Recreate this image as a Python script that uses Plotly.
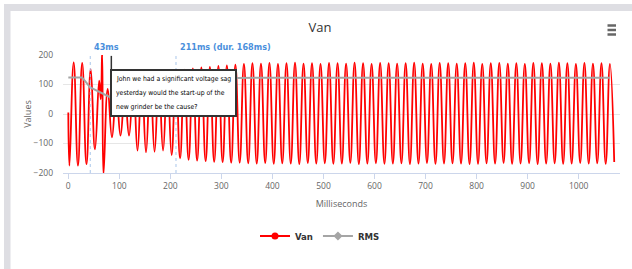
import plotly.graph_objects as go

# ---------------- data ----------------
# Van waveform: times (ms) and values (V) of each crest and trough
peak_times = [10.5, 27.2, 43.9, 60.5, 77.2, 93.9, 110.6, 127.3, 143.9, 160.6,
              177.3, 194.0, 210.7, 227.3, 244.0, 260.7, 277.4, 294.1, 310.7, 327.4,
              344.1, 360.8, 377.5, 394.1, 410.8, 427.5, 444.2, 460.9, 477.5, 494.2,
              510.9, 527.6, 544.3, 560.9, 577.6, 594.3, 611.0, 627.7, 644.3, 661.0,
              677.7, 694.4, 711.1, 727.7, 744.4, 761.1, 777.8, 794.5, 811.1, 827.8,
              844.5, 861.2, 877.9, 894.5, 911.2, 927.9, 944.6, 961.3, 977.9, 994.6,
              1011.3, 1028.0, 1044.7, 1061.3]
peak_values = [175, 173, 152, 113, 85, 75, 72, 110, 125, 128,
               125, 135, 145, 150, 155, 158, 160, 163, 165, 167,
               170, 172, 171, 173, 170, 172, 174, 171, 172, 170,
               173, 172, 171, 174, 172, 170, 173, 172, 171, 172,
               174, 171, 170, 173, 172, 171, 172, 174, 170, 172,
               173, 171, 172, 170, 173, 172, 171, 174, 172, 170,
               173, 171, 172, 170]
trough_times = [2.2, 18.9, 35.6, 52.2, 68.9, 85.6, 102.3, 119.0, 135.6, 152.3,
                169.0, 185.7, 202.4, 219.0, 235.7, 252.4, 269.1, 285.8, 302.4, 319.1,
                335.8, 352.5, 369.2, 385.8, 402.5, 419.2, 435.9, 452.6, 469.2, 485.9,
                502.6, 519.3, 536.0, 552.6, 569.3, 586.0, 602.7, 619.4, 636.0, 652.7,
                669.4, 686.1, 702.8, 719.4, 736.1, 752.8, 769.5, 786.2, 802.8, 819.5,
                836.2, 852.9, 869.6, 886.2, 902.9, 919.6, 936.3, 953.0, 969.6, 986.3,
                1003.0, 1019.7, 1036.4, 1053.0, 1069.7]
trough_values = [-175, -175, -170, -120, -205, -79, -73, -73, -124, -130,
                 -128, -124, -139, -150, -155, -158, -160, -162, -163, -165,
                 -165, -167, -168, -166, -169, -167, -168, -170, -166, -168,
                 -167, -169, -168, -166, -170, -168, -167, -169, -168, -167,
                 -170, -168, -166, -169, -168, -167, -168, -170, -169, -167,
                 -168, -166, -169, -168, -167, -170, -168, -167, -169, -168,
                 -166, -168, -167, -169, -163]
# extra samples: start of record and the switching transient
extra_times = [0.0, 63.6, 66.4]
extra_values = [5, 50, 205]

# RMS envelope
rms_times = [0, 27, 43, 63, 82, 100, 118, 135, 152, 168, 185, 202, 218, 235,
             252, 270, 300, 330, 400, 1061.3]
rms_values = [124, 124, 90, 73, 57, 52, 55, 72, 86, 90, 92, 98, 105, 110,
              114, 117, 120, 122, 123, 123]

# event markers
event_times = [43, 211]
event_labels = ["43ms", "211ms (dur. 168ms)"]
comment_lines = ["John we had a significant voltage sag",
                 "yesterday would the start-up of the",
                 "new grinder be the cause?"]
comment_time = 84.3
comment_value = 152.5
comment_pointer_top = 197

x_ticks = [0, 100, 200, 300, 400, 500, 600, 700, 800, 900, 1000]
y_ticks = [-200, -100, 0, 100, 200]

# ---------------- build ----------------
pts = sorted(zip(peak_times + trough_times + extra_times,
                 peak_values + trough_values + extra_values))
van_x = [p[0] for p in pts]
van_y = [p[1] for p in pts]

W, H = 632, 269
L, R, T, B = 63, 12, 55, 96
PW, PH = W - L - R, H - T - B


def px(x):
    return (x - L) / PW


def py(y):
    return (H - B - y) / PH


FONT = "Open Sans, Liberation Sans, Arial, sans-serif"
NARROW = "Liberation Sans Narrow, DejaVu Sans Condensed, Liberation Sans, sans-serif"

fig = go.Figure()
fig.add_trace(go.Scatter(x=van_x, y=van_y, mode="lines", name="Van",
                         line=dict(color="#ff0000", width=1.8, shape="spline", smoothing=1.3),
                         showlegend=False, hoverinfo="skip"))
fig.add_trace(go.Scatter(x=rms_times, y=rms_values, mode="lines", name="RMS",
                         line=dict(color="#a5a5a5", width=2),
                         showlegend=False, hoverinfo="skip"))
# legend entries
fig.add_trace(go.Scatter(x=[None], y=[None], mode="lines+markers", name="Van",
                         line=dict(color="#ff0000", width=2),
                         marker=dict(symbol="circle", size=7, color="#ff0000")))
fig.add_trace(go.Scatter(x=[None], y=[None], mode="lines+markers", name="RMS",
                         line=dict(color="#a5a5a5", width=2),
                         marker=dict(symbol="diamond", size=7, color="#a5a5a5")))

shapes = []
for t in event_times:
    shapes.append(dict(type="line", xref="x", yref="paper", x0=t, x1=t, y0=0, y1=1,
                       line=dict(color="#a9c6ea", width=1, dash="3px,3px"), layer="above"))
shapes.append(dict(type="line", xref="x", yref="y", x0=comment_time, x1=comment_time,
                   y0=comment_value, y1=comment_pointer_top,
                   line=dict(color="#333333", width=1.5), layer="above"))
# comment box
shapes.append(dict(type="rect", xref="paper", yref="paper", x0=px(111), x1=px(236),
                   y0=py(116), y1=py(70), fillcolor="#ffffff",
                   line=dict(color="#333333", width=2), layer="above"))
# outer frame strips
shapes.append(dict(type="rect", xref="paper", yref="paper", x0=px(4), x1=px(632),
                   y0=py(11), y1=py(4), fillcolor="#dedee3", line=dict(width=0), layer="above"))
shapes.append(dict(type="rect", xref="paper", yref="paper", x0=px(4), x1=px(10.5),
                   y0=py(269), y1=py(4), fillcolor="#dedee3", line=dict(width=0), layer="above"))
# menu icon
for yy in (25.5, 30, 34.5):
    shapes.append(dict(type="line", xref="paper", yref="paper", x0=px(607.5), x1=px(616),
                       y0=py(yy), y1=py(yy), line=dict(color="#666666", width=2.5)))

annotations = []
for t, lab in zip(event_times, event_labels):
    annotations.append(dict(x=t, y=1, xref="x", yref="paper", text="<b>%s</b>" % lab,
                            showarrow=False, xanchor="left", yanchor="bottom",
                            xshift=2, yshift=1,
                            font=dict(family=NARROW, size=9, color="#4a8fdc")))
for i, line in enumerate(comment_lines):
    annotations.append(dict(x=px(113.5), y=py(78.5 + 14 * i), xref="paper", yref="paper",
                            text=line, showarrow=False, xanchor="left", yanchor="middle",
                            font=dict(family=NARROW, size=6.8, color="#000000")))

fig.update_layout(
    width=W, height=H, autosize=False,
    margin=dict(l=L, r=R, t=T, b=B, pad=0, autoexpand=False),
    paper_bgcolor="#ffffff", plot_bgcolor="#ffffff",
    font=dict(family=FONT, size=9, color="#666666"),
    title=dict(text="Van", x=320 / W, xanchor="center", y=1 - 27 / H, yanchor="middle",
               font=dict(family=FONT, size=13, color="#333333")),
    xaxis=dict(range=[-10.4, 1081], tickvals=x_ticks, showgrid=False, zeroline=False,
               showline=True, linecolor="#ccd6eb", linewidth=1,
               ticks="outside", ticklen=5, tickcolor="#ccd6eb", automargin=False,
               tickfont=dict(size=8.5, color="#666666"),
               title=dict(text="Milliseconds", standoff=10,
                          font=dict(size=9, color="#666666"))),
    yaxis=dict(range=[-200, 200], tickvals=y_ticks, showgrid=True, gridcolor="#e6e6e6",
               zeroline=False, showline=False, ticks="", ticklabelstandoff=9,
               automargin=False,
               tickfont=dict(size=8.5, color="#666666"),
               title=dict(text="Values", standoff=0,
                          font=dict(size=9, color="#666666"))),
    legend=dict(orientation="h", x=px(320), xanchor="center", y=py(236), yanchor="middle",
                font=dict(family=NARROW, size=9.5, color="#333333", weight="bold"),
                itemwidth=30, bgcolor="rgba(0,0,0,0)"),
    shapes=shapes, annotations=annotations,
)

fig.write_html("out.html", config={"displayModeBar": False},
               post_script="document.body.style.margin='0px';")
